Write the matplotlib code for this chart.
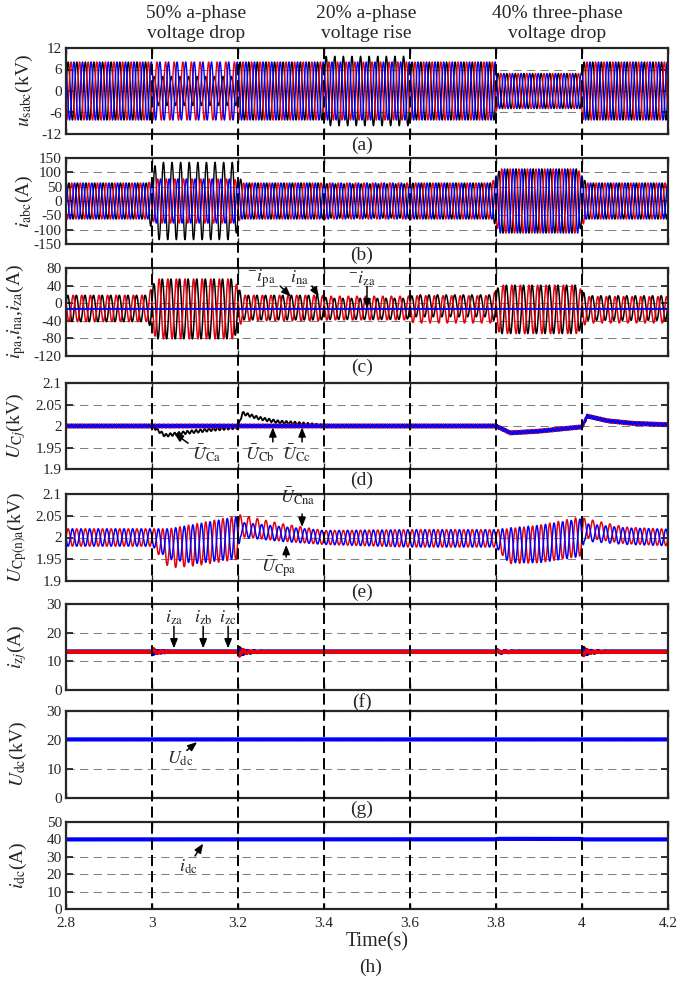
import numpy as np
import matplotlib.pyplot as plt
from matplotlib.lines import Line2D
from matplotlib.transforms import blended_transform_factory

plt.rcParams['font.family'] = 'Liberation Serif'
plt.rcParams['mathtext.fontset'] = 'stix'
plt.rcParams['axes.unicode_minus'] = False

# ---- time base and events ----
t_start, t_end = 2.8, 4.2
f_grid = 50
seg_edges = [2.8, 3.0, 3.2, 3.4, 3.6, 3.8, 4.0, 4.2]
event_lines = [3.0, 3.2, 3.4, 3.6, 3.8, 4.0]
x_ticks = [2.8, 3.0, 3.2, 3.4, 3.6, 3.8, 4.0, 4.2]
x_ticklabels = ['2.8', '3', '3.2', '3.4', '3.6', '3.8', '4', '4.2']

# (a) grid voltage peaks per segment (kV)
ua_amp = [8.1, 4.05, 8.1, 9.7, 8.1, 4.9, 8.1]
ub_amp = [8.1, 8.1, 8.1, 8.1, 8.1, 4.9, 8.1]
uc_amp = [8.1, 8.1, 8.1, 8.1, 8.1, 4.9, 8.1]

# (b) ac current peaks per segment (A)
ia_amp = [63, 135, 63, 60, 63, 112, 63]
ib_amp = [63, 77, 63, 63, 63, 112, 63]
ic_amp = [63, 77, 63, 63, 63, 112, 63]

# (c) arm currents: peak and offset per segment (A)
ipa_amp = [30, 68, 28, 24, 25, 55, 28]
ipa_off = [-12, -13, -10, -13, -6, -14, -11]
ina_amp = [30, 68, 29, 27, 31, 55, 30]
ina_off = [-12, -13, -11, -11, -14, -14, -15]
iza_level = -13

# (d) mean capacitor voltages (kV)
uc_t = [2.8, 3.0, 3.03, 3.08, 3.15, 3.2, 3.21, 3.25, 3.29, 3.35, 3.4,
        3.8, 3.833, 3.9, 4.0, 4.012, 4.06, 4.12, 4.2]
uca_v = [2.0, 2.0, 1.978, 1.985, 1.993, 1.997, 2.03, 2.018, 2.01, 2.005, 2.0,
         2.0, 1.984, 1.988, 1.998, 2.023, 2.012, 2.006, 2.003]
ucb_v = [2.0, 2.0, 2.0, 2.0, 2.0, 2.0, 2.0, 2.0, 2.0, 2.0, 2.0,
         2.0, 1.984, 1.988, 1.998, 2.023, 2.012, 2.006, 2.003]
ucc_v = [2.0, 2.0, 2.0, 2.0, 2.0, 2.0, 2.0, 2.0, 2.0, 2.0, 2.0,
         2.0, 1.984, 1.988, 1.998, 2.023, 2.012, 2.006, 2.003]
uc_ripple = 0.0035

# (e) upper / lower arm capacitor voltages, phase a (kV)
cap_t = [2.8, 3.0, 3.04, 3.1, 3.2, 3.205, 3.3, 3.4, 3.6, 3.8, 3.83, 3.9,
         4.0, 4.005, 4.1, 4.2]
cna_cen = [2.0, 2.0, 1.975, 1.983, 2.0, 2.027, 2.012, 2.0, 1.998, 1.998,
           1.98, 1.985, 2.003, 2.022, 2.005, 2.0]
cna_amp = [0.02, 0.02, 0.045, 0.048, 0.05, 0.025, 0.02, 0.016, 0.02, 0.02,
           0.04, 0.043, 0.045, 0.022, 0.019, 0.019]
cpa_cen = [2.0, 2.0, 1.985, 1.985, 2.0, 2.018, 2.008, 2.0, 1.998, 1.998,
           1.982, 1.985, 2.0, 2.012, 2.003, 2.0]
cpa_amp = [0.02, 0.02, 0.035, 0.045, 0.048, 0.017, 0.017, 0.016, 0.02, 0.02,
           0.04, 0.043, 0.043, 0.02, 0.019, 0.019]

# (f) circulating currents (A)
iz_level = 13.3
iz_dist_t = [3.0, 3.2, 3.8, 4.0]
iza_dist = [0.9, 1.7, 0.5, 1.8]
izb_dist = [1.3, -1.9, 0.6, -1.7]
izc_dist = [-0.8, 0.9, 0.6, 0.9]

# (g), (h) dc side
udc_level = [20.2, 20.2, 20.2, 20.2, 20.2, 20.2, 20.2]
idc_level = [40, 40, 40, 40, 40, 40.3, 40]

dt = 1e-4
t = np.arange(t_start, t_end + dt / 2, dt)
w = 2 * np.pi * f_grid


def steps(vals, ramp=0.0):
    idx = np.clip(np.searchsorted(seg_edges, t, side='right') - 1, 0, len(vals) - 1)
    env = np.asarray(vals, float)[idx]
    n = int(round(ramp / dt))
    if n > 1:
        env = np.convolve(np.pad(env, (n // 2, n - 1 - n // 2), mode='edge'),
                          np.ones(n) / n, mode='valid')
    return env


def damped(amps):
    out = np.zeros_like(t)
    for te, a in zip(iz_dist_t, amps):
        m = t >= te
        out[m] += a * np.exp(-(t[m] - te) / 0.012) * np.sin(2 * np.pi * 60 * (t[m] - te))
    return out


fig = plt.figure(figsize=(6.79, 9.81), dpi=100)
H = 981.0
W = 679.0
ax_px = [(48, 134), (158, 244), (268, 356), (383, 469),
         (494, 581), (604, 690), (711, 798), (822, 909)]
axes = [fig.add_axes([66 / W, 1 - b / H, 602 / W, (b - tp) / H]) for tp, b in ax_px]

DARK = '#262626'


def style(ax, ylim, yticks, yticklabels, ylabel, lab_x, bottom=False):
    ax.set_xlim(t_start, t_end)
    ax.set_ylim(*ylim)
    ax.set_yticks(yticks)
    ax.set_yticklabels(yticklabels)
    ax.set_xticks(x_ticks)
    if bottom:
        ax.set_xticklabels(x_ticklabels)
    else:
        ax.set_xticklabels([])
    ax.tick_params(direction='in', top=True, right=True, length=4, width=1,
                   labelsize=11, colors=DARK, pad=3)
    ax.tick_params(axis='y', length=5, width=1.3)
    ax.tick_params(axis='x', pad=6)
    ax.yaxis.grid(True, color='#808080', lw=0.75, linestyle=(0, (8, 5)))
    ax.set_axisbelow(True)
    for s in ax.spines.values():
        s.set_linewidth(1.6)
        s.set_color(DARK)
    ax.set_ylabel(ylabel, fontsize=14, color=DARK)
    ax.yaxis.set_label_coords((lab_x - 66) / 602, 0.5)


def arrow(ax, tail, tip):
    ax.annotate('', xy=tip, xytext=tail,
                arrowprops=dict(arrowstyle='-|>,head_length=0.55,head_width=0.22',
                                color='k', lw=1.1, shrinkA=0, shrinkB=0), zorder=10)


def label(ax, x, y, s, size=13):
    ax.text(x, y, s, fontsize=size, ha='center', va='center', color=DARK, zorder=10)


# (a)
ax = axes[0]
ax.plot(t, steps(ua_amp, 0.003) * np.sin(w * t), color='k', lw=1.0)
ax.plot(t, steps(ub_amp, 0.003) * np.sin(w * t - 2 * np.pi / 3), color='#e8000b', lw=1.0)
ax.plot(t, steps(uc_amp, 0.003) * np.sin(w * t + 2 * np.pi / 3), color='#0000ff', lw=1.0)
style(ax, (-12, 12), [-12, -6, 0, 6, 12], ['-12', '-6', '0', '6', '12'],
      r'$u_{\rm sabc}$(kV)', 35)

# (b)
ax = axes[1]
ax.plot(t, steps(ia_amp, 0.02) * np.sin(w * t - 0.5), color='k', lw=1.0)
ax.plot(t, steps(ib_amp, 0.02) * np.sin(w * t - 0.5 - 2 * np.pi / 3), color='#e8000b', lw=1.0)
ax.plot(t, steps(ic_amp, 0.02) * np.sin(w * t - 0.5 + 2 * np.pi / 3), color='#0000ff', lw=1.0)
style(ax, (-150, 150), [-150, -100, -50, 0, 50, 100, 150],
      ['-150', '-100', '-50', '0', '50', '100', '150'], r'$i_{\rm abc}$(A)', 35)

# (c)
ax = axes[2]
ax.plot(t, steps(ipa_off, 0.02) + steps(ipa_amp, 0.02) * np.sin(w * t + 0.3), color='k', lw=1.1)
ax.plot(t, steps(ina_off, 0.02) + steps(ina_amp, 0.02) * np.sin(w * t + 2.6), color='#e8000b', lw=1.1)
ax.plot(t, np.full_like(t, iza_level), color='#0000ff', lw=1.4)
style(ax, (-120, 80), [-120, -80, -40, 0, 40, 80], ['-120', '-80', '-40', '0', '40', '80'],
      r'$i_{\rm pa}$,$i_{\rm na}$,$i_{\rm za}$(A)', 28)
label(ax, 3.253, 56, r'$^{-}i_{\rm pa}$')
arrow(ax, (3.298, 39), (3.323, 15))
label(ax, 3.344, 57, r'$i_{\rm na}$')
arrow(ax, (3.372, 39), (3.388, 15))
label(ax, 3.488, 56, r'$^{-}i_{\rm za}$')
arrow(ax, (3.5, 38), (3.5, -12))

# (d)
ax = axes[3]
rip = uc_ripple * np.sin(2 * w * t)
ax.plot(t, np.interp(t, uc_t, uca_v) + rip, color='k', lw=1.3)
ax.plot(t, np.interp(t, uc_t, ucb_v) - rip, color='#e8000b', lw=1.8)
ax.plot(t, np.interp(t, uc_t, ucc_v) + 0.8 * rip, color='#0000ff', lw=1.8)
style(ax, (1.9, 2.1), [1.9, 1.95, 2.0, 2.05, 2.1], ['1.9', '1.95', '2', '2.05', '2.1'],
      r'$U_{{\rm C}j}$(kV)', 28)
label(ax, 3.126, 1.936, r'$\bar{U}_{\rm Ca}$')
arrow(ax, (3.084, 1.960), (3.051, 1.984))
label(ax, 3.251, 1.936, r'$\bar{U}_{\rm Cb}$')
arrow(ax, (3.281, 1.963), (3.281, 1.997))
label(ax, 3.337, 1.936, r'$\bar{U}_{\rm Cc}$')
arrow(ax, (3.349, 1.963), (3.349, 1.997))

# (e)
ax = axes[4]
ax.plot(t, np.interp(t, cap_t, cna_cen) + np.interp(t, cap_t, cna_amp) * np.sin(w * t),
        color='#e8000b', lw=1.1)
ax.plot(t, np.interp(t, cap_t, cpa_cen) + np.interp(t, cap_t, cpa_amp) * np.sin(w * t + np.pi),
        color='#0000ff', lw=1.1)
style(ax, (1.9, 2.1), [1.9, 1.95, 2.0, 2.05, 2.1], ['1.9', '1.95', '2', '2.05', '2.1'],
      r'$U_{\rm Cp(n)a}$(kV)', 29)
label(ax, 3.34, 2.094, r'$\bar{U}_{\rm Cna}$')
arrow(ax, (3.349, 2.054), (3.349, 2.024))
label(ax, 3.295, 1.932, r'$\bar{U}_{\rm Cpa}$')
arrow(ax, (3.312, 1.955), (3.312, 1.983))

# (f)
ax = axes[5]
fuzz = 0.22 * np.sin(2 * np.pi * 730 * t)
ax.plot(t, iz_level + damped(iza_dist) + fuzz, color='k', lw=2.2)
ax.plot(t, iz_level + damped(izc_dist) - fuzz, color='#0000ff', lw=2.2)
ax.plot(t, iz_level + damped(izb_dist) + 0.6 * fuzz, color='#e8000b', lw=2.2)
style(ax, (0, 30), [0, 10, 20, 30], ['0', '10', '20', '30'], r'$i_{{\rm z}j}$(A)', 29)
for x, s in zip([3.051, 3.119, 3.177], [r'$i_{\rm za}$', r'$i_{\rm zb}$', r'$i_{\rm zc}$']):
    label(ax, x, 25.3, s)
    arrow(ax, (x, 22.2), (x, 14.5))

# (g)
ax = axes[6]
ax.plot(t, steps(udc_level), color='#0000ff', lw=3.0)
style(ax, (0, 30), [0, 10, 20, 30], ['0', '10', '20', '30'], r'$U_{\rm dc}$(kV)', 29)
label(ax, 3.065, 13.4, r'$U_{\rm dc}$')
arrow(ax, (3.081, 16.4), (3.105, 19.3))

# (h)
ax = axes[7]
ax.plot(t, steps(idc_level, 0.01), color='#0000ff', lw=3.0)
style(ax, (0, 50), [0, 10, 20, 30, 40, 50], ['0', '10', '20', '30', '40', '50'],
      r'$i_{\rm dc}$(A)', 29, bottom=True)
label(ax, 3.084, 24.5, r'$i_{\rm dc}$')
arrow(ax, (3.1, 30.5), (3.119, 37.6))
ax.set_xlabel('Time(s)', fontsize=14.5, color=DARK)
ax.xaxis.set_label_coords((377 - 66) / 602, -0.27)

# panel letters
for ax, s in zip(axes, 'abcdefgh'):
    if s == 'h':
        ax.text((371 - 66) / 602, -0.67, '(h)', transform=ax.transAxes, fontsize=14,
                ha='center', va='center', color=DARK)
    else:
        ax.annotate('(%s)' % s, xy=((362 - 66) / 602, 0), xycoords='axes fraction',
                    xytext=(0, -2), textcoords='offset points', fontsize=14,
                    ha='center', va='top', color=DARK)

# event lines across all panels
trans = blended_transform_factory(axes[-1].transData, fig.transFigure)
for x in event_lines:
    fig.add_artist(Line2D([x, x], [1 - 48 / H, 1 - 909 / H], transform=trans,
                          color='k', lw=1.4, linestyle=(0, (5.7, 2.6)), zorder=20))

# event titles
titles = ['50% a-phase\nvoltage drop', '20% a-phase\nvoltage rise', '40% three-phase\nvoltage drop']
title_x = [196, 366, 557]
for x, s in zip(title_x, titles):
    fig.text(x / W, 1 - 5 / H, s, fontsize=14, ha='center', va='top',
             linespacing=1.2, color=DARK)

fig.savefig('out.png', dpi=100)
